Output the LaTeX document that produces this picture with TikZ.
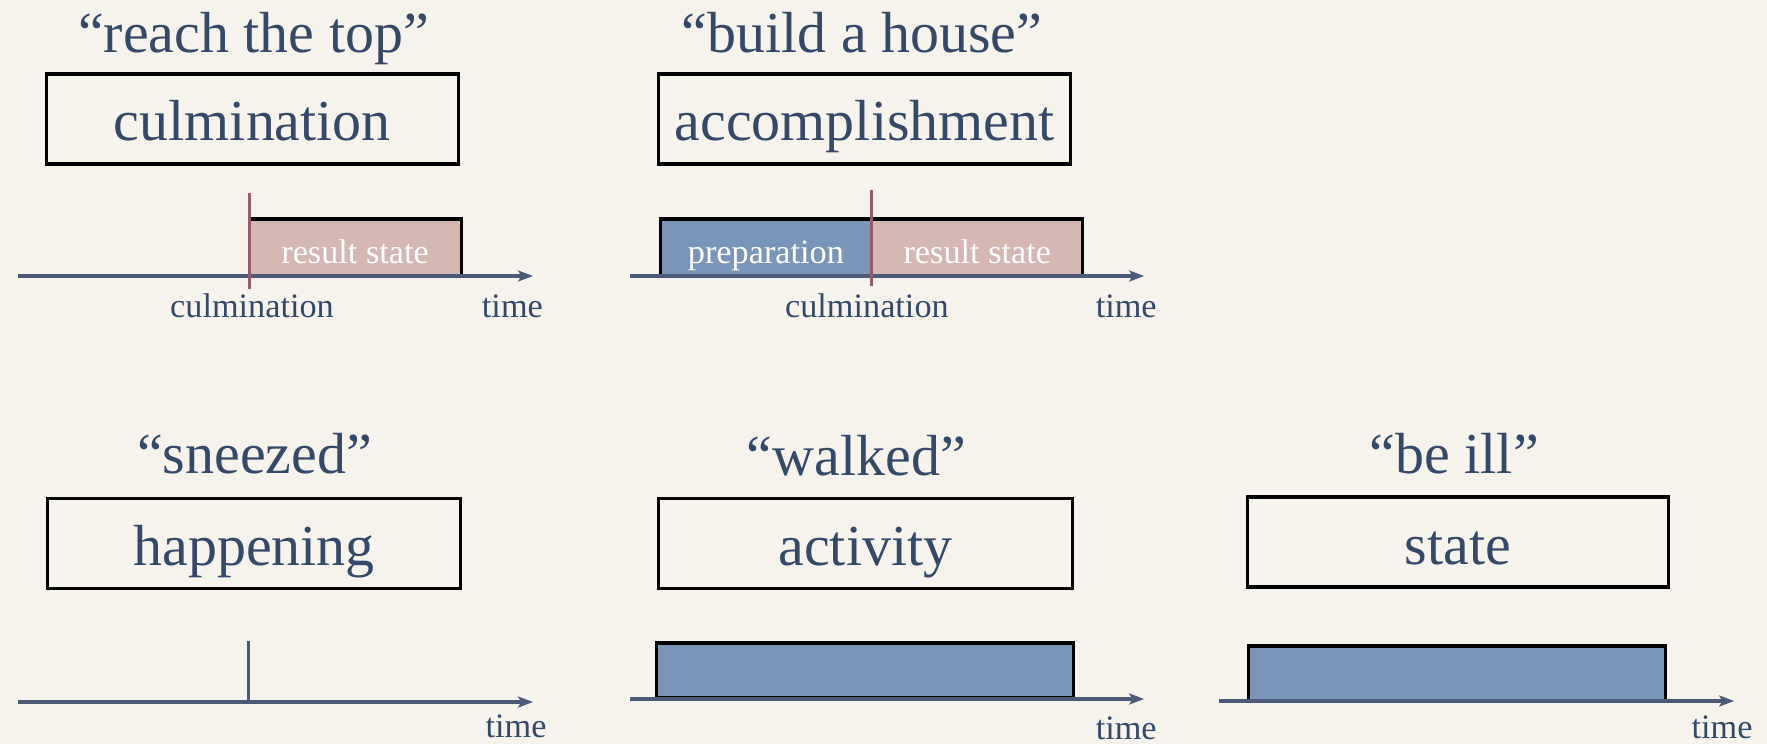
\documentclass[tikz,border=0pt]{standalone}
\usepackage{fontspec}
\setmainfont{Liberation Serif}
\usepackage{tikz}
\usetikzlibrary{arrows.meta,calc}
\definecolor{paper}{HTML}{F6F3EC}
\definecolor{ink}{HTML}{34496A}
\definecolor{axisc}{HTML}{4B5A78}
\definecolor{culm}{HTML}{955A6E}
\definecolor{result}{HTML}{D5B7B2}
\definecolor{prep}{HTML}{7996BA}

\begin{document}
\begin{tikzpicture}[x=0.02cm,y=-0.02cm,
    big/.style={font=\fontsize{33}{36}\selectfont, text=ink},
    small/.style={font=\fontsize{19.5}{22}\selectfont, text=ink},
    title/.style={big, anchor=base, inner sep=0},
    kind/.style={big, draw=black, line width=1.8pt, inner sep=0,
        minimum width=8.23cm, minimum height=1.8cm, text height=0.9cm, text depth=0.02cm},
    bar/.style={draw=black, line width=1.8pt, inner sep=0, minimum height=1.14cm,
        font=\fontsize{19.5}{22}\selectfont, text=white, text height=0.64cm, text depth=0.02cm},
    axis/.style={draw=axisc, line width=2pt, -{Stealth[length=0.3cm,width=0.22cm,inset=0.07cm]}},
    tick/.style={draw=culm, line width=1.8pt},
    lbl/.style={small, anchor=base, inner sep=0}]
            \fill[paper] (0,0) rectangle (1767,744);
            \useasboundingbox (0,0) rectangle (1767,744);
            \node[title] (T1) at (253.5,52) {“reach the top”};
            \node[kind] (K1) at (252.4,119) {culmination};
            \node[bar, fill=result, minimum width=4.24cm] (R1) at (355.1,247.5) {result state};
            \coordinate (A1) at (18,276);
            \coordinate (E1) at (533,276);
            \draw[axis] (A1) -- (E1);
            \coordinate (C1a) at (249.1,193);
            \coordinate (C1b) at (249.1,289);
            \draw[tick] (C1a) -- (C1b);
            \node[lbl] (L1) at (252,317) {culmination};
            \node[lbl] (M1) at (512.4,317) {time};
            \node[title] (T2) at (862.1,52) {“build a house”};
            \node[kind, minimum width=8.24cm] (K2) at (864.6,119) {accomplishment};
            \node[bar, fill=prep, minimum width=4.23cm] (P2) at (765.9,247.5) {preparation};
            \node[bar, fill=result, minimum width=4.22cm] (R2) at (977.3,247.5) {result state};
            \coordinate (A2) at (629.8,276);
            \coordinate (E2) at (1144.1,276);
            \draw[axis] (A2) -- (E2);
            \coordinate (C2a) at (871.7,190);
            \coordinate (C2b) at (871.7,286);
            \draw[tick] (C2a) -- (C2b);
            \node[lbl] (L2) at (866.9,317) {culmination};
            \node[lbl] (M2) at (1126.2,317) {time};
            \node[title] (T3) at (254.5,473) {“sneezed”};
            \node[kind, minimum width=8.25cm] (K3) at (254.1,543.5) {happening};
            \coordinate (A3) at (18,702);
            \coordinate (E3) at (533,702);
            \coordinate (H3) at (248.7,641);
            \draw[axis] (A3) -- (E3);
            \draw[draw=axisc, line width=1.8pt] (H3) -- (H3 |- A3);
            \node[lbl] (M3) at (516,737) {time};
            \node[title] (T4) at (856.4,475) {“walked”};
            \node[kind, minimum width=8.29cm] (K4) at (865.4,543.5) {activity};
            \node[bar, fill=prep, minimum width=8.34cm, minimum height=1.1cm] (P4) at (864.8,670.5) {};
            \coordinate (A4) at (629.8,699);
            \coordinate (E4) at (1144.1,699);
            \draw[axis] (A4) -- (E4);
            \node[lbl] (M4) at (1126.2,739) {time};
            \node[title] (T5) at (1454.2,473) {“be ill”};
            \node[kind, minimum width=8.42cm] (K5) at (1458,542) {state};
            \node[bar, fill=prep, minimum width=8.35cm, minimum height=1.1cm] (P5) at (1456.9,673.5) {};
            \coordinate (A5) at (1218.6,701);
            \coordinate (E5) at (1734.1,701);
            \draw[axis] (A5) -- (E5);
            \node[lbl] (M5) at (1722,738) {time};
        \end{tikzpicture}
\end{document}
